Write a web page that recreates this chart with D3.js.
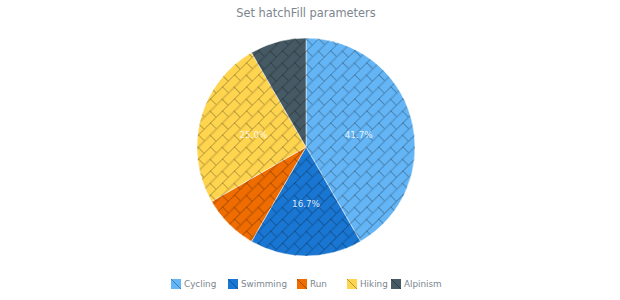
<!DOCTYPE html>
<html>
<head>
<meta charset="utf-8">
<script src="https://cdn.jsdelivr.net/npm/d3@7"></script>
<style>
  body { margin: 0; background: #fff; }
  text { font-family: "DejaVu Sans", sans-serif; }
</style>
</head>
<body>
<div id="chart"></div>
<script>
var categories = ["Cycling", "Swimming", "Run", "Hiking", "Alpinism"];
var values = [5, 2, 1, 3, 1];
var colors = ["#64b5f6", "#1976d2", "#ef6c00", "#ffd54f", "#455a64"];
var title = "Set hatchFill parameters";

var width = 620, height = 300;
var cx = 306, cy = 147, radius = 109;

var svg = d3.select("#chart").append("svg")
  .attr("width", width)
  .attr("height", height);

// diagonal brick hatch
var bw = 17, bh = 8.5;
var defs = svg.append("defs");
var pat = defs.append("pattern")
  .attr("id", "brick")
  .attr("patternUnits", "userSpaceOnUse")
  .attr("width", bw)
  .attr("height", bh * 2)
  .attr("patternTransform", "rotate(-45)");
[[0, 0.5, bw, 0.5], [0, bh + 0.5, bw, bh + 0.5], [0.5, 0, 0.5, bh], [bw / 2, bh, bw / 2, bh * 2]].forEach(function(l){
  pat.append("line")
    .attr("x1", l[0]).attr("y1", l[1]).attr("x2", l[2]).attr("y2", l[3])
    .attr("stroke", "#000")
    .attr("stroke-opacity", 0.25)
    .attr("stroke-width", 1);
});

svg.append("text")
  .attr("x", cx)
  .attr("y", 17)
  .attr("text-anchor", "middle")
  .attr("fill", "#7c868e")
  .style("font-size", "11.4px")
  .text(title);

var data = categories.map(function(c, i){ return { name: c, value: values[i], color: colors[i] }; });
var total = d3.sum(values);

var pie = d3.pie().sort(null).value(function(d){ return d.value; });
var arc = d3.arc().innerRadius(0).outerRadius(radius);
var labelArc = d3.arc().innerRadius(radius * 0.5).outerRadius(radius * 0.5);

var g = svg.append("g").attr("transform", "translate(" + cx + "," + cy + ")");
var arcs = pie(data);

g.selectAll(".slice").data(arcs).enter().append("path")
  .attr("class", "slice")
  .attr("d", arc)
  .attr("fill", function(d){ return d.data.color; })
  .attr("stroke", "#fff")
  .attr("stroke-width", 0.5);

g.selectAll(".hatch").data(arcs).enter().append("path")
  .attr("class", "hatch")
  .attr("d", arc)
  .attr("fill", "url(#brick)");

g.selectAll(".label").data(arcs.filter(function(d){ return d.data.value / total > 0.1; }))
  .enter().append("text")
  .attr("class", "label")
  .attr("transform", function(d){
    var c = labelArc.centroid(d);
    return "translate(" + c[0] + "," + (c[1] + 2) + ")";
  })
  .attr("dy", "0.35em")
  .attr("text-anchor", "middle")
  .attr("fill", "#fff")
  .attr("fill-opacity", 0.85)
  .style("font-size", "8.8px")
  .text(function(d){ return (d.data.value / total * 100).toFixed(1) + "%"; });

// legend
var legendX = [171, 228, 297, 347, 391];
var legend = svg.append("g").attr("transform", "translate(0,284)");
var items = legend.selectAll(".item").data(data).enter().append("g")
  .attr("class", "item")
  .attr("transform", function(d, i){ return "translate(" + legendX[i] + ",0)"; });
items.append("rect")
  .attr("x", 0).attr("y", -5)
  .attr("width", 10).attr("height", 10)
  .attr("fill", function(d){ return d.color; });
items.append("line")
  .attr("x1", 0).attr("y1", -5).attr("x2", 10).attr("y2", 5)
  .attr("stroke", "#000").attr("stroke-opacity", 0.3);
items.append("text")
  .attr("x", 13).attr("y", 0).attr("dy", "0.35em")
  .attr("fill", "#7c868e")
  .style("font-size", "8.8px")
  .text(function(d){ return d.name; });
</script>
</body>
</html>
